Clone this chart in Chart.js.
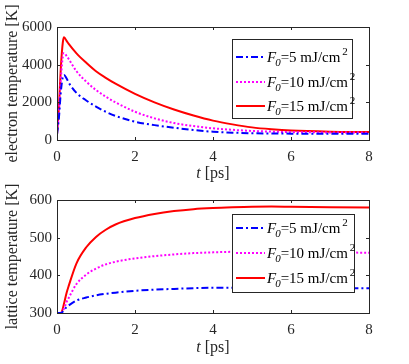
<!DOCTYPE html>
<html>
<head>
<meta charset="utf-8">
<script src="https://cdn.jsdelivr.net/npm/chart.js@4.4.0/dist/chart.umd.min.js"></script>
<style>
  html, body { margin: 0; padding: 0; background: #fff; }
  #wrap { position: relative; width: 409px; height: 364px; }
  .panel { position: absolute; left: 0; width: 409px; height: 182px; }
</style>
</head>
<body>
<div id="wrap">
  <div class="panel" style="top:0"><canvas id="electronChart" width="409" height="182"></canvas></div>
  <div class="panel" style="top:182px"><canvas id="latticeChart" width="409" height="182"></canvas></div>
</div>
<script>
// time axis (ps) shared by both panels
const timePs = [0, 0.05, 0.1, 0.15, 0.18, 0.25, 0.3, 0.5, 0.75, 1, 1.25, 1.5, 2, 2.5, 3, 3.5, 4, 4.5, 5, 5.5, 6, 7, 8];
const fluences = [5, 10, 15]; // mJ/cm^2

// electron temperature [K]
const electronF5  = [300, 1200, 2600, 3350, 3450, 3250, 3050, 2500, 2100, 1770, 1500, 1280, 970, 790, 650, 530, 440, 390, 360, 345, 338, 332, 330];
const electronF10 = [300, 1500, 3300, 4450, 4620, 4450, 4300, 3650, 3100, 2650, 2300, 2000, 1500, 1150, 900, 740, 620, 540, 480, 445, 420, 400, 390];
const electronF15 = [300, 1800, 3900, 5200, 5450, 5250, 5100, 4600, 4100, 3650, 3300, 2990, 2450, 2000, 1620, 1300, 1030, 830, 670, 570, 500, 440, 420];

// lattice temperature [K]
const latticeF5  = [300, 300, 300, 304, 308, 316, 320, 333, 341, 347, 351, 354, 359, 362, 364, 366, 367, 367, 367, 367, 367, 366, 366];
const latticeF10 = [300, 300, 300, 306, 312, 330, 340, 377, 402, 418, 429, 436, 445, 451, 455.5, 459, 461, 462.5, 463, 463, 462, 461, 460];
const latticeF15 = [300, 300, 300, 312, 325, 355, 372, 432, 474.5, 502, 521, 535, 552, 563, 570.5, 575.5, 578.5, 580.5, 582, 582.5, 582, 581, 580];

const xTicks = [0, 2, 4, 6, 8];
const electronTicks = [0, 2000, 4000, 6000];
const latticeTicks = [300, 400, 500, 600];

const axisColor = '#262626';
const serif = "'Liberation Serif', 'Times New Roman', serif";

const lineStyles = [
  { borderColor: '#0000ff', borderDash: [7, 3, 2, 3] },
  { borderColor: '#ff00ff', borderDash: [2, 2] },
  { borderColor: '#ff0000', borderDash: [] }
];

function toPoints(values) {
  return values.map((v, i) => ({ x: timePs[i], y: v }));
}

function makeDatasets(series) {
  return series.map((vals, i) => ({
    label: 'F0=' + fluences[i] + ' mJ/cm2',
    data: toPoints(vals),
    borderColor: lineStyles[i].borderColor,
    borderDash: lineStyles[i].borderDash,
    borderWidth: 2,
    pointRadius: 0,
    fill: false,
    cubicInterpolationMode: 'monotone'
  }));
}

// box around the axes, inward ticks on all four sides, italic x title
const frameTicks = {
  id: 'frameTicks',
  afterDraw(chart) {
    const { ctx, chartArea: a, scales: { x, y } } = chart;
    ctx.save();
    ctx.strokeStyle = axisColor;
    ctx.lineWidth = 1;
    ctx.strokeRect(Math.round(a.left) + 0.5, Math.round(a.top) + 0.5, Math.round(a.right - a.left), Math.round(a.bottom - a.top));
    ctx.beginPath();
    x.ticks.forEach(t => {
      const px = Math.round(x.getPixelForValue(t.value)) + 0.5;
      ctx.moveTo(px, a.bottom); ctx.lineTo(px, a.bottom - 3);
      ctx.moveTo(px, a.top); ctx.lineTo(px, a.top + 3);
    });
    y.ticks.forEach(t => {
      const py = Math.round(y.getPixelForValue(t.value)) + 0.5;
      ctx.moveTo(a.left, py); ctx.lineTo(a.left + 3, py);
      ctx.moveTo(a.right, py); ctx.lineTo(a.right - 3, py);
    });
    ctx.stroke();

    // x axis title: "t [ps]"
    const titleY = chart.options.plugins.frameTicks.titleY;
    const cx = (a.left + a.right) / 2;
    ctx.fillStyle = axisColor;
    ctx.textBaseline = 'alphabetic';
    ctx.font = 'italic 16px ' + serif;
    const wT = ctx.measureText('t').width;
    ctx.font = '16px ' + serif;
    const wRest = ctx.measureText(' [ps]').width;
    let tx = cx - (wT + wRest) / 2;
    ctx.font = 'italic 16px ' + serif;
    ctx.fillText('t', tx, titleY);
    ctx.font = '16px ' + serif;
    ctx.fillText(' [ps]', tx + wT, titleY);
    ctx.restore();
  }
};

// MATLAB-style legend box drawn inside the plot area
const boxLegend = {
  id: 'boxLegend',
  afterDatasetsDraw(chart) {
    const o = chart.options.plugins.boxLegend;
    const { ctx } = chart;
    ctx.save();
    ctx.fillStyle = '#fff';
    ctx.fillRect(o.left, o.top, o.width, o.height);
    ctx.strokeStyle = '#262626';
    ctx.lineWidth = 1;
    ctx.strokeRect(o.left + 0.5, o.top + 0.5, o.width, o.height);
    chart.data.datasets.forEach((ds, i) => {
      const ry = o.rowY[i];
      ctx.beginPath();
      ctx.strokeStyle = ds.borderColor;
      ctx.lineWidth = ds.borderWidth;
      ctx.setLineDash(ds.borderDash);
      ctx.moveTo(o.left + 4, ry);
      ctx.lineTo(o.left + 33, ry);
      ctx.stroke();
      ctx.setLineDash([]);

      let tx = o.left + 35;
      const base = ry + 5;
      ctx.fillStyle = '#000';
      ctx.textBaseline = 'alphabetic';
      ctx.font = 'italic 15px ' + serif;
      ctx.fillText('F', tx, base);
      tx += ctx.measureText('F').width - 1;
      ctx.font = 'italic 11px ' + serif;
      ctx.fillText('0', tx, base + 4);
      tx += ctx.measureText('0').width;
      ctx.font = '15px ' + serif;
      const main = '=' + fluences[i] + ' mJ/cm';
      ctx.fillText(main, tx, base);
      tx += ctx.measureText(main).width + 2;
      ctx.font = '11px ' + serif;
      ctx.fillText('2', tx, base - 7);
    });
    ctx.restore();
  }
};

function makeOptions(cfg) {
  return {
    responsive: false,
    animation: false,
    layout: { padding: { left: 0, right: 40, top: cfg.padTop, bottom: 0 } },
    plugins: {
      legend: { display: false },
      tooltip: { enabled: false },
      boxLegend: cfg.legend,
      frameTicks: { titleY: cfg.xTitleY }
    },
    scales: {
      x: {
        type: 'linear',
        min: 0, max: 8,
        afterFit(scale) { scale.height = cfg.xAxisHeight; },
        afterBuildTicks(scale) { scale.ticks = xTicks.map(v => ({ value: v })); },
        grid: { display: false, drawTicks: false },
        border: { display: false },
        ticks: { color: axisColor, padding: 8, font: { family: serif, size: 15 }, callback: v => String(v) }
      },
      y: {
        type: 'linear',
        min: cfg.yMin, max: cfg.yMax,
        afterFit(scale) { scale.width = 57; },
        afterBuildTicks(scale) { scale.ticks = cfg.yTicks.map(v => ({ value: v })); },
        grid: { display: false, drawTicks: false },
        border: { display: false },
        ticks: { color: axisColor, padding: 5, font: { family: serif, size: 15 }, callback: v => String(v) },
        title: {
          display: true,
          text: cfg.yTitle,
          color: axisColor,
          padding: { top: 3, bottom: 0 },
          font: { family: serif, size: 16 }
        }
      }
    }
  };
}

new Chart(document.getElementById('electronChart'), {
  type: 'line',
  data: { datasets: makeDatasets([electronF5, electronF10, electronF15]) },
  options: makeOptions({
    padTop: 27, xAxisHeight: 42, xTitleY: 178,
    yMin: 0, yMax: 6000, yTicks: electronTicks,
    yTitle: 'electron temperature [K]',
    legend: { left: 232, top: 39, width: 120, height: 79, rowY: [57, 82, 106] }
  }),
  plugins: [boxLegend, frameTicks]
});

new Chart(document.getElementById('latticeChart'), {
  type: 'line',
  data: { datasets: makeDatasets([latticeF5, latticeF10, latticeF15]) },
  options: makeOptions({
    padTop: 18, xAxisHeight: 51, xTitleY: 170,
    yMin: 300, yMax: 600, yTicks: latticeTicks,
    yTitle: 'lattice temperature [K]',
    legend: { left: 232, top: 32, width: 122, height: 78, rowY: [46, 71, 96] }
  }),
  plugins: [boxLegend, frameTicks]
});
</script>
</body>
</html>
